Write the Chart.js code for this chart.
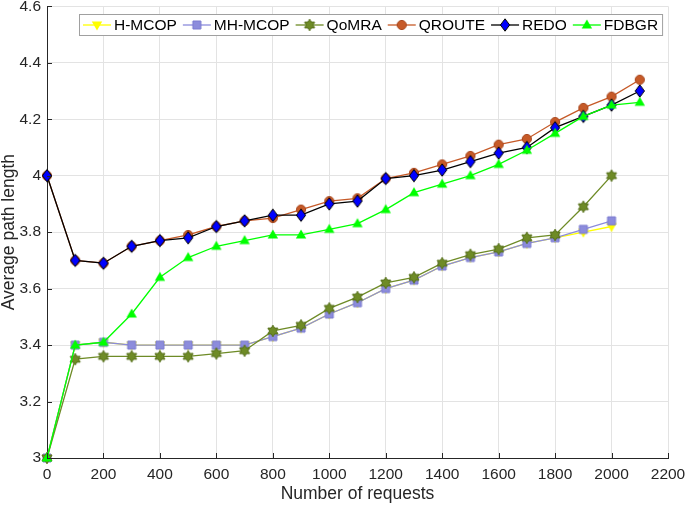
<!DOCTYPE html>
<html lang="en">
<head>
<meta charset="UTF-8">
<title>Average path length vs number of requests</title>
<script src="https://cdn.jsdelivr.net/npm/chart.js"></script>
<style>
  html, body { margin: 0; padding: 0; background: #fff; }
  #wrap { width: 685px; height: 506px; }
</style>
</head>
<body>
<div id="wrap"><canvas id="pathChart" width="685" height="506"></canvas></div>
<script>
// x values (number of requests)
const requests = [0, 100, 200, 300, 400, 500, 600, 700, 800, 900, 1000,
                  1100, 1200, 1300, 1400, 1500, 1600, 1700, 1800, 1900, 2000, 2100];

// average path length per method
const hMcop  = [3.00, 3.40, 3.41, 3.40, 3.40, 3.40, 3.40, 3.40, 3.43, 3.46, 3.51,
                3.55, 3.60, 3.63, 3.68, 3.71, 3.73, 3.76, 3.78, 3.80, 3.82];
const mhMcop = [3.00, 3.40, 3.41, 3.40, 3.40, 3.40, 3.40, 3.40, 3.43, 3.46, 3.51,
                3.55, 3.60, 3.63, 3.68, 3.71, 3.73, 3.76, 3.78, 3.81, 3.84];
const qomra  = [3.00, 3.35, 3.36, 3.36, 3.36, 3.36, 3.37, 3.38, 3.45, 3.47, 3.53,
                3.57, 3.62, 3.64, 3.69, 3.72, 3.74, 3.78, 3.79, 3.89, 4.00];
const qroute = [4.00, 3.70, 3.69, 3.75, 3.77, 3.79, 3.82, 3.84, 3.85, 3.88, 3.91,
                3.92, 3.99, 4.01, 4.04, 4.07, 4.11, 4.13, 4.19, 4.24, 4.28, 4.34];
const redo   = [4.00, 3.70, 3.69, 3.75, 3.77, 3.78, 3.82, 3.84, 3.86, 3.86, 3.90,
                3.91, 3.99, 4.00, 4.02, 4.05, 4.08, 4.10, 4.17, 4.21, 4.25, 4.30];
const fdbgr  = [3.00, 3.40, 3.41, 3.51, 3.64, 3.71, 3.75, 3.77, 3.79, 3.79, 3.81,
                3.83, 3.88, 3.94, 3.97, 4.00, 4.04, 4.09, 4.15, 4.21, 4.25, 4.26];

const seriesNames = ['H-MCOP', 'MH-MCOP', 'QoMRA', 'QROUTE', 'REDO', 'FDBGR'];
const seriesData  = [hMcop, mhMcop, qomra, qroute, redo, fdbgr];

const xMin = 0, xMax = 2200, xStep = 200;
const yMin = 3, yMax = 4.6, yStep = 0.2;

const axisFont = '"Liberation Sans", Arial, sans-serif';
const inkColor = '#262626';

// matlab-like marker glyphs
function makeMarker(shape, fill, edge) {
  const s = 16;
  const c = document.createElement('canvas');
  c.width = s; c.height = s;
  const g = c.getContext('2d');
  g.translate(s / 2, s / 2);
  g.beginPath();
  if (shape === 'circle') {
    g.arc(0, 0, 4.6, 0, Math.PI * 2);
  } else if (shape === 'square') {
    g.rect(-4, -4, 8, 8);
  } else if (shape === 'triUp') {
    g.moveTo(0, -5.5); g.lineTo(5.2, 3.6); g.lineTo(-5.2, 3.6);
  } else if (shape === 'triDown') {
    g.moveTo(0, 5.5); g.lineTo(5.2, -3.6); g.lineTo(-5.2, -3.6);
  } else if (shape === 'diamond') {
    g.moveTo(0, -6.2); g.lineTo(4.6, 0); g.lineTo(0, 6.2); g.lineTo(-4.6, 0);
  } else if (shape === 'hexagram') {
    const ro = 5.8, ri = ro / Math.sqrt(3);
    for (let k = 0; k < 12; k++) {
      const r = k % 2 === 0 ? ro : ri;
      const a = -Math.PI / 2 + k * Math.PI / 6;
      const px = r * Math.cos(a), py = r * Math.sin(a);
      if (k === 0) g.moveTo(px, py); else g.lineTo(px, py);
    }
  }
  g.closePath();
  g.fillStyle = fill;
  g.fill();
  if (edge) {
    g.lineWidth = 1;
    g.strokeStyle = edge;
    g.stroke();
  }
  return c;
}

const lineColors = ['#FFFF00', '#8C8CDC', '#6E8B26', '#C65A28', '#000000', '#00FF00'];
const markers = [
  makeMarker('triDown', '#FFFF00', null),
  makeMarker('square', '#8C8CDC', '#7a7ad0'),
  makeMarker('hexagram', '#6E8B26', '#566f1a'),
  makeMarker('circle', '#C65A28', '#a8481f'),
  makeMarker('diamond', '#0000FF', '#000000'),
  makeMarker('triUp', '#00FF00', null)
];

const datasets = seriesNames.map((name, i) => ({
  label: name,
  data: seriesData[i].map((v, j) => ({ x: requests[j], y: v })),
  borderColor: lineColors[i],
  backgroundColor: lineColors[i],
  borderWidth: 1.3,
  tension: 0,
  pointStyle: markers[i],
  pointRadius: 5,
  pointHoverRadius: 5,
  clip: false,
  order: seriesNames.length - i   // later series drawn on top
}));

// legend box inside the axes plus inward tick marks
const matlabLook = {
  id: 'matlabLook',
  afterDatasetsDraw(chart) {
    const ctx = chart.ctx;
    const xs = chart.scales.x, ys = chart.scales.y;
    const area = chart.chartArea;

    // inward ticks
    ctx.save();
    ctx.strokeStyle = inkColor;
    ctx.lineWidth = 1;
    ctx.beginPath();
    xs.ticks.forEach(t => {
      const px = Math.round(xs.getPixelForValue(t.value)) + 0.5;
      ctx.moveTo(px, area.bottom);
      ctx.lineTo(px, area.bottom - 5);
    });
    ys.ticks.forEach(t => {
      const py = Math.round(ys.getPixelForValue(t.value)) + 0.5;
      ctx.moveTo(area.left, py);
      ctx.lineTo(area.left + 5, py);
    });
    ctx.stroke();

    // legend
    const boxLeft = 79.5, boxTop = 14.5, boxH = 21;
    const lineLen = 28, gapText = 3, gapAfter = 6;
    ctx.font = '15.5px ' + axisFont;
    const widths = seriesNames.map(n => ctx.measureText(n).width);
    const boxW = 4 + widths.reduce((s, w) => s + w + lineLen + gapText + gapAfter, 0) - gapAfter + 4;
    ctx.fillStyle = '#ffffff';
    ctx.fillRect(boxLeft, boxTop, boxW, boxH);
    ctx.strokeStyle = '#a0a0a0';
    ctx.strokeRect(boxLeft, boxTop, boxW, boxH);

    const cy = boxTop + boxH / 2;
    let x = boxLeft + 3.5;
    seriesNames.forEach((name, i) => {
      ctx.strokeStyle = lineColors[i];
      ctx.lineWidth = 1.3;
      ctx.beginPath();
      ctx.moveTo(x, cy);
      ctx.lineTo(x + lineLen, cy);
      ctx.stroke();
      const m = markers[i];
      ctx.drawImage(m, x + lineLen / 2 - m.width / 2, cy - m.height / 2);
      ctx.fillStyle = '#000000';
      ctx.textBaseline = 'middle';
      ctx.textAlign = 'left';
      ctx.fillText(name, x + lineLen + gapText, cy + 1);
      x += lineLen + gapText + widths[i] + gapAfter;
    });
    ctx.restore();
  }
};

const ctx = document.getElementById('pathChart').getContext('2d');
const pathChart = new Chart(ctx, {
  type: 'line',
  data: { datasets: datasets },
  options: {
    responsive: false,
    animation: false,
    layout: { padding: { top: 6, right: 17, left: 0, bottom: 0 } },
    plugins: {
      legend: { display: false },
      tooltip: { enabled: false }
    },
    scales: {
      x: {
        type: 'linear',
        min: xMin,
        max: xMax,
        ticks: {
          stepSize: xStep,
          color: inkColor,
          font: { size: 15.5, family: axisFont },
          padding: 7,
          maxRotation: 0,
          callback: v => String(v)
        },
        grid: { color: '#e3e3e3', drawTicks: false },
        border: { display: true, color: inkColor, width: 1 },
        title: {
          display: true,
          text: 'Number of requests',
          color: inkColor,
          font: { size: 17.5, family: axisFont, lineHeight: 1.2 },
          padding: { top: 0, bottom: 1 }
        },
        afterFit(scale) {
          scale.height = 48;
          scale.paddingLeft = 0;
          scale.paddingRight = 0;
        }
      },
      y: {
        min: yMin,
        max: yMax,
        ticks: {
          stepSize: yStep,
          color: inkColor,
          font: { size: 15.5, family: axisFont },
          padding: 6,
          callback: v => String(Math.round(v * 10) / 10)
        },
        grid: { color: '#e3e3e3', drawTicks: false },
        border: { display: true, color: inkColor, width: 1 },
        title: {
          display: true,
          text: 'Average path length',
          color: inkColor,
          font: { size: 17.5, family: axisFont, lineHeight: 1.1 },
          padding: { top: 0, bottom: 0 }
        },
        afterFit(scale) {
          scale.width = 47;
          scale.paddingTop = 0;
          scale.paddingBottom = 0;
        }
      }
    }
  },
  plugins: [matlabLook]
});
</script>
</body>
</html>
